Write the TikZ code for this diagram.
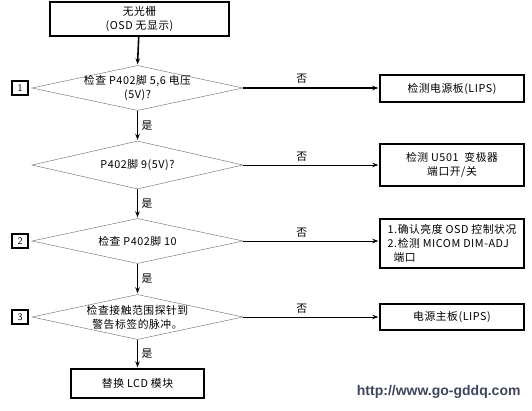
\documentclass[tikz,border=0pt]{standalone}
\usepackage{fontspec}
\setmainfont{Noto Sans CJK SC}[LetterSpace=5]
\newfontfamily\urlfont{Liberation Sans}
\usetikzlibrary{arrows.meta,positioning,shapes.geometric,calc}
\definecolor{urlgray}{RGB}{62,68,92}

\begin{document}
\begin{tikzpicture}[x=1pt,y=-1pt,
    every node/.style={font=\fontsize{10.8}{14}\selectfont},
    procbox/.style={draw,line width=1.4pt,inner sep=0pt,align=center},
    decision/.style={draw=black!60,line width=0.4pt,diamond,inner sep=0pt,minimum width=211pt},
    numbox/.style={draw,line width=1.2pt,inner sep=0pt,minimum width=16pt,minimum height=14pt,font=\fontsize{10}{10}\sffamily},
    flow/.style={-{Stealth[length=6pt,width=4.5pt]},line width=1.6pt,shorten >=1pt},
    noflow/.style={-{Stealth[length=6pt,width=4.5pt]},line width=0.8pt,shorten >=1pt}]
    \useasboundingbox (0,0) rectangle (532,411);
    % main column
    \node[procbox,minimum width=179pt,minimum height=34pt] (start) at (139.5,19) {无光栅\\(OSD 无显示)};
    \node[decision,minimum height=45pt] (d1) at (137.5,88) {};
    \node[align=center] at (d1) {检查 P402脚 5,6 电压\\(5V)?};
    \node[decision,minimum height=48pt] (d2) at (137.5,165) {};
    \node at (d2) {P402脚 9(5V)?};
    \node[decision,minimum height=45pt] (d3) at (137.5,241) {};
    \node at (d3) {检查 P402脚 10};
    \node[decision,minimum height=45pt] (d4) at (137.5,317) {};
    \node[align=center] at (d4) {检查接触范围探针到\\警告标签的脉冲。};
    \node[procbox,minimum width=133pt,minimum height=29pt] (lcd) at (137.5,383.5) {替换 LCD 模块};
    % right column
    \node[procbox,minimum width=144pt,minimum height=27pt] (r1) at (452,88.5) {检测电源板(LIPS)};
    \node[procbox,minimum width=144pt,minimum height=42pt] (r2) at (452,165) {检测 U501 \ 变极器\\端口开/关};
    \node[procbox,minimum width=144pt,minimum height=49pt,align=left] (r3) at (452,243.5) {1.确认亮度 OSD 控制状况\\2.检测 MICOM DIM-ADJ\\\ \ 端口};
    \node[procbox,minimum width=144pt,minimum height=26pt] (r4) at (452,317) {电源主板(LIPS)};
    % step numbers
    \node[numbox] (n1) at (20,88) {1};
    \node[numbox] (n2) at (20,241) {2};
    \node[numbox] (n3) at (20,317) {3};
    % connectors
    \draw[flow] (start) -- (d1.north);
    \draw[flow] (d1.south) -- node[right] {是} (d2.north);
    \draw[flow] (d2.south) -- node[right] {是} (d3.north);
    \draw[flow] (d3.south) -- node[right] {是} (d4.north);
    \draw[flow] (d4.south) -- node[right] {是} (lcd);
    \draw[flow] (d1.east) -- node[above,pos=0.43] {否} (r1.west |- d1.east);
    \draw[noflow] (d2.east) -- node[above,pos=0.43] {否} (r2.west |- d2.east);
    \draw[noflow] (d3.east) -- node[above,pos=0.43] {否} (r3.west |- d3.east);
    \draw[noflow] (d4.east) -- node[above,pos=0.43] {否} (r4.west |- d4.east);
    % watermark
    \node[anchor=east,text=urlgray,font=\urlfont\bfseries\fontsize{14}{16}\selectfont] (url) at (524,392) {http://www.go-gddq.com};
\end{tikzpicture}
\end{document}
